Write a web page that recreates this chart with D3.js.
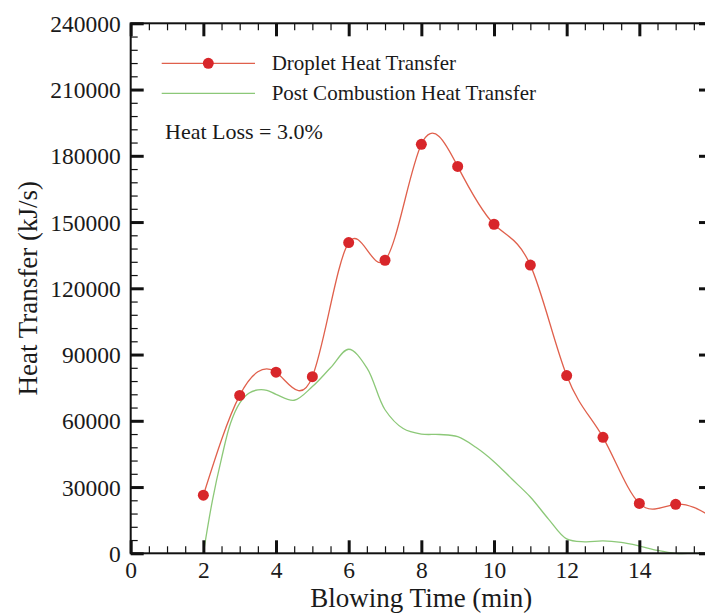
<!DOCTYPE html>
<html>
<head>
<meta charset="utf-8">
<script src="https://cdn.jsdelivr.net/npm/d3@7"></script>
<style>
  html, body { margin: 0; padding: 0; background: #fff; }
  svg { display: block; overflow: hidden; }
  text { font-family: "Liberation Serif", "Times New Roman", serif; fill: #1a1a1a; }
</style>
</head>
<body>
<svg id="chart" width="705" height="613"></svg>
<script>
// ---- data ----
const dropletTime  = [2, 3, 4, 5, 6, 7, 8, 9, 10, 11, 12, 13, 14, 15, 16];
const dropletHeat  = [26300, 71500, 82000, 80000, 140700, 132700, 185200, 175200, 149000, 130500, 80500, 52500, 22600, 22200, 16500];

const postTime = [2, 2.25, 2.5, 2.75, 3, 3.25, 3.5, 3.75, 4, 4.5, 5, 5.5, 6, 6.5, 7, 7.5, 8, 8.5, 9, 9.5, 10, 10.5, 11, 11.5, 12, 12.5, 13, 13.5, 14, 14.5, 15, 15.5, 16];
const postHeat = [0, 24000, 43000, 59000, 68000, 72500, 74000, 73800, 72000, 69300, 75500, 84000, 92400, 84000, 65000, 56500, 54000, 53800, 52800, 48000, 41500, 33500, 25500, 15500, 6500, 5200, 5600, 4900, 3300, 1300, 0, 0, 0];

const xMajorTicks = [0, 2, 4, 6, 8, 10, 12, 14, 16];
const xTickLabels = [0, 2, 4, 6, 8, 10, 12, 14];
const yTickLabels = [0, 30000, 60000, 90000, 120000, 150000, 180000, 210000, 240000];
const legendLabels = ["Droplet Heat Transfer", "Post Combustion Heat Transfer"];
const noteText = "Heat Loss = 3.0%";
const xTitle = "Blowing Time (min)";
const yTitle = "Heat Transfer (kJ/s)";

// ---- layout ----
const m = { left: 130.7, right: 712, top: 23.3, bottom: 553.3 };
const svg = d3.select("#chart");

const x = d3.scaleLinear().domain([0, 16]).range([m.left, m.right]);
const y = d3.scaleLinear().domain([0, 240000]).range([m.bottom, m.top]);

const xMinor = d3.range(0, 16.001, 0.5).filter(v => xMajorTicks.indexOf(v) < 0);
const yMinor = d3.range(0, 240001, 6000).filter(v => yTickLabels.indexOf(v) < 0);

const RED_LINE = "#e0604c", RED_DOT = "#d8262a", GREEN = "#8cc878";

// curves
const line = d3.line().x(d => x(d[0])).y(d => y(d[1]));
svg.append("path")
  .datum(d3.zip(postTime, postHeat))
  .attr("fill", "none").attr("stroke", GREEN).attr("stroke-width", 1.3)
  .attr("d", line.curve(d3.curveCatmullRom.alpha(0.5)));

svg.append("path")
  .datum(d3.zip(dropletTime, dropletHeat))
  .attr("fill", "none").attr("stroke", RED_LINE).attr("stroke-width", 1.3)
  .attr("d", line.curve(d3.curveNatural));

svg.append("g").selectAll("circle")
  .data(d3.zip(dropletTime, dropletHeat))
  .join("circle")
  .attr("cx", d => x(d[0])).attr("cy", d => y(d[1])).attr("r", 5.5)
  .attr("fill", RED_DOT);

// ---- axes (ticks inward on all four sides) ----
function styleAxis(g, major) {
  g.select(".domain").remove();
  g.selectAll(".tick line").attr("stroke", "#111").attr("stroke-width", major ? 3 : 1.2);
}
const MAJ = 13, MIN = 7;
// bottom
svg.append("g").attr("transform", `translate(0,${m.bottom})`)
  .call(d3.axisBottom(x).tickValues(xMinor).tickSize(-MIN).tickFormat(""))
  .call(g => styleAxis(g, false));
svg.append("g").attr("transform", `translate(0,${m.bottom})`)
  .call(d3.axisBottom(x).tickValues(xMajorTicks).tickSize(-MAJ).tickFormat(""))
  .call(g => styleAxis(g, true));
svg.append("g").attr("transform", `translate(0,${m.bottom})`)
  .call(d3.axisBottom(x).tickValues(xTickLabels).tickSize(0).tickPadding(0).tickFormat(d3.format("d")))
  .call(g => {
    g.select(".domain").remove();
    g.selectAll(".tick text").attr("y", 25).attr("dy", 0).style("font-size", "23.5px")
      .style("font-family", '"Liberation Serif", serif').attr("fill", "#1a1a1a");
  });
// top
svg.append("g").attr("transform", `translate(0,${m.top})`)
  .call(d3.axisTop(x).tickValues(xMinor).tickSize(-MIN).tickFormat(""))
  .call(g => styleAxis(g, false));
svg.append("g").attr("transform", `translate(0,${m.top})`)
  .call(d3.axisTop(x).tickValues(xMajorTicks).tickSize(-MAJ).tickFormat(""))
  .call(g => styleAxis(g, true));
// left
svg.append("g").attr("transform", `translate(${m.left},0)`)
  .call(d3.axisLeft(y).tickValues(yMinor).tickSize(-MIN).tickFormat(""))
  .call(g => styleAxis(g, false));
svg.append("g").attr("transform", `translate(${m.left},0)`)
  .call(d3.axisLeft(y).tickValues(yTickLabels).tickSizeInner(-MAJ).tickSizeOuter(0).tickPadding(0).tickFormat(d3.format("d")))
  .call(g => {
    styleAxis(g, true);
    g.selectAll(".tick text").attr("x", -10).attr("dy", "0.34em").style("font-size", "23.5px")
      .style("font-family", '"Liberation Serif", serif').attr("fill", "#1a1a1a");
  });
// right
svg.append("g").attr("transform", `translate(${m.right},0)`)
  .call(d3.axisRight(y).tickValues(yMinor).tickSize(-MIN).tickFormat(""))
  .call(g => styleAxis(g, false));
svg.append("g").attr("transform", `translate(${m.right},0)`)
  .call(d3.axisRight(y).tickValues(yTickLabels).tickSize(-MAJ).tickFormat(""))
  .call(g => styleAxis(g, true));

// frame
svg.append("rect")
  .attr("x", m.left).attr("y", m.top)
  .attr("width", m.right - m.left).attr("height", m.bottom - m.top)
  .attr("fill", "none").attr("stroke", "#111").attr("stroke-width", 2);

// ---- titles ----
svg.append("text").attr("x", (m.left + m.right) / 2).attr("y", 606.5)
  .attr("text-anchor", "middle").style("font-size", "27px").text(xTitle);
svg.append("text")
  .attr("transform", `translate(37,${(m.top + m.bottom) / 2}) rotate(-90)`)
  .attr("text-anchor", "middle").style("font-size", "27px").text(yTitle);

// ---- legend ----
const lg = svg.append("g");
const legendY = [63.3, 93.3];
lg.append("line").attr("x1", 161.7).attr("x2", 255).attr("y1", legendY[0]).attr("y2", legendY[0])
  .attr("stroke", RED_LINE).attr("stroke-width", 1.3);
lg.append("circle").attr("cx", 208.3).attr("cy", legendY[0]).attr("r", 5.5).attr("fill", RED_DOT);
lg.append("line").attr("x1", 161.7).attr("x2", 255).attr("y1", legendY[1]).attr("y2", legendY[1])
  .attr("stroke", GREEN).attr("stroke-width", 1.3);
lg.selectAll("text.lab").data(legendLabels).join("text").attr("class", "lab")
  .attr("x", 271.7).attr("y", (d, i) => legendY[i] + 6.5)
  .style("font-size", "21px").text(d => d);

svg.append("text").attr("x", 165).attr("y", 139.3).style("font-size", "22px").text(noteText);
</script>
</body>
</html>
